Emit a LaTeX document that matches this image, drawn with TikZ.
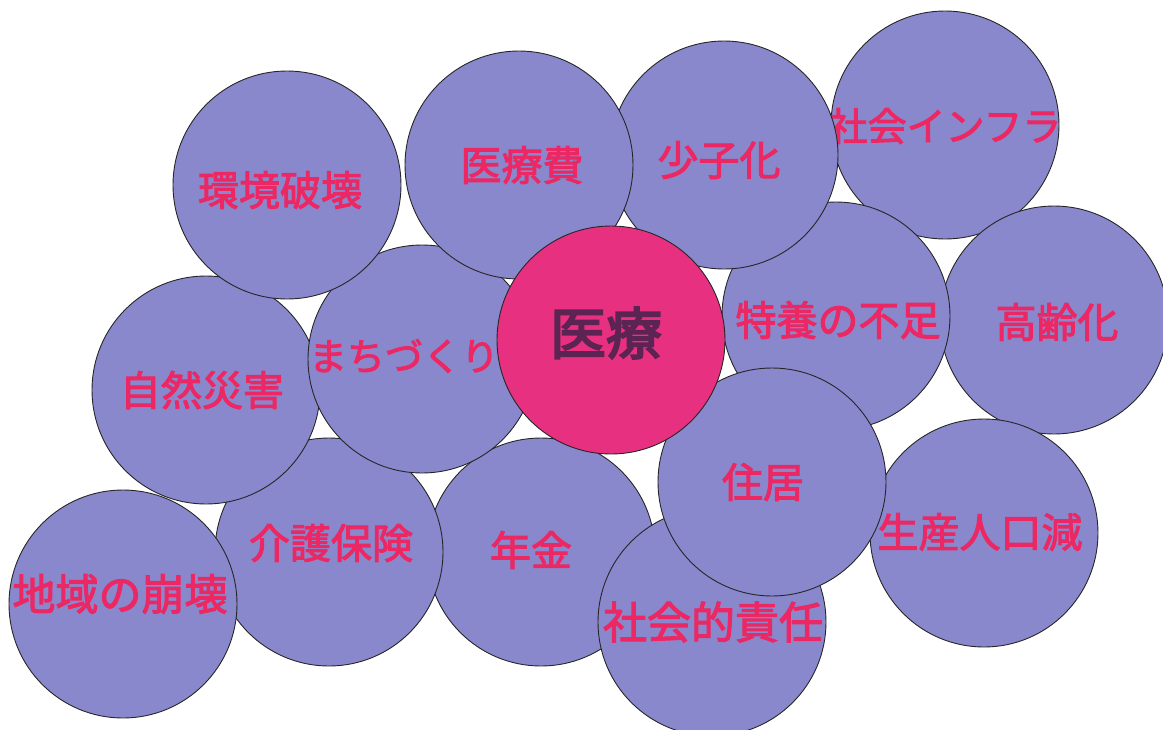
\documentclass[tikz,border=0pt]{standalone}
\usepackage{fontspec}
\newfontfamily\jpb{Noto Sans CJK JP}[FakeBold=2.5]
\newfontfamily\jpc{Noto Sans CJK JP}[FakeBold=3.5]
\definecolor{bubfill}{RGB}{138,136,204}
\definecolor{corefill}{RGB}{232,48,128}
\definecolor{lblred}{RGB}{236,40,100}
\definecolor{coretext}{RGB}{92,36,82}
\tikzset{
  bub/.style={circle, draw=black!85, line width=0.9pt, fill=bubfill, minimum size=228pt, inner sep=0pt},
  core/.style={bub, fill=corefill},
  lbl/.style={text=lblred, font=\jpb\fontsize{41}{41}\selectfont, inner sep=0pt},
  corelbl/.style={text=coretext, font=\jpc\fontsize{56}{56}\selectfont, inner sep=0pt}
}
\begin{document}
\begin{tikzpicture}[x=1pt,y=-1pt]
\useasboundingbox (0,0) rectangle (1163,729);
\node[bub] (c4) at (945,125) {};
\node[lbl,font=\jpb\fontsize{39}{39}\selectfont] (t4) at (945,126) {社会インフラ};
\node[bub] (c6) at (1054,320) {};
\node[lbl] (t6) at (1057,322) {高齢化};
\node[bub] (c5) at (836,316) {};
\node[lbl] (t5) at (838,320) {特養の不足};
\node[bub] (c3) at (724,155) {};
\node[lbl] (t3) at (719,160) {少子化};
\node[bub] (c11) at (541,552) {};
\node[lbl] (t11) at (531,550) {年金};
\node[bub] (c10) at (329,552) {};
\node[lbl] (t10) at (331,543) {介護保険};
\node[bub] (c9) at (206,390) {};
\node[lbl] (t9) at (202,390) {自然災害};
\node[bub] (c15) at (123,604) {};
\node[lbl,font=\jpb\fontsize{43}{43}\selectfont] (t15) at (120,594) {地域の崩壊};
\node[bub] (c8) at (422,359) {};
\node[lbl,font=\jpb\fontsize{38}{38}\selectfont] (t8) at (404,356) {まちづくり};
\node[bub] (c1) at (287,185) {};
\node[lbl] (t1) at (280,190) {環境破壊};
\node[bub] (c2) at (519,165) {};
\node[lbl] (t2) at (522,165) {医療費};
\node[bub] (c14) at (984,533) {};
\node[lbl] (t14) at (980,532) {生産人口減};
\node[bub] (c13) at (712,622) {};
\node[lbl,font=\jpb\fontsize{44}{44}\selectfont] (t13) at (713,622) {社会的責任};
\node[bub] (c12) at (772,482) {};
\node[lbl] (t12) at (763,482) {住居};
\node[core] (c7) at (611,340) {};
\node[corelbl] (t7) at (606,333) {医療};
\end{tikzpicture}
\end{document}
